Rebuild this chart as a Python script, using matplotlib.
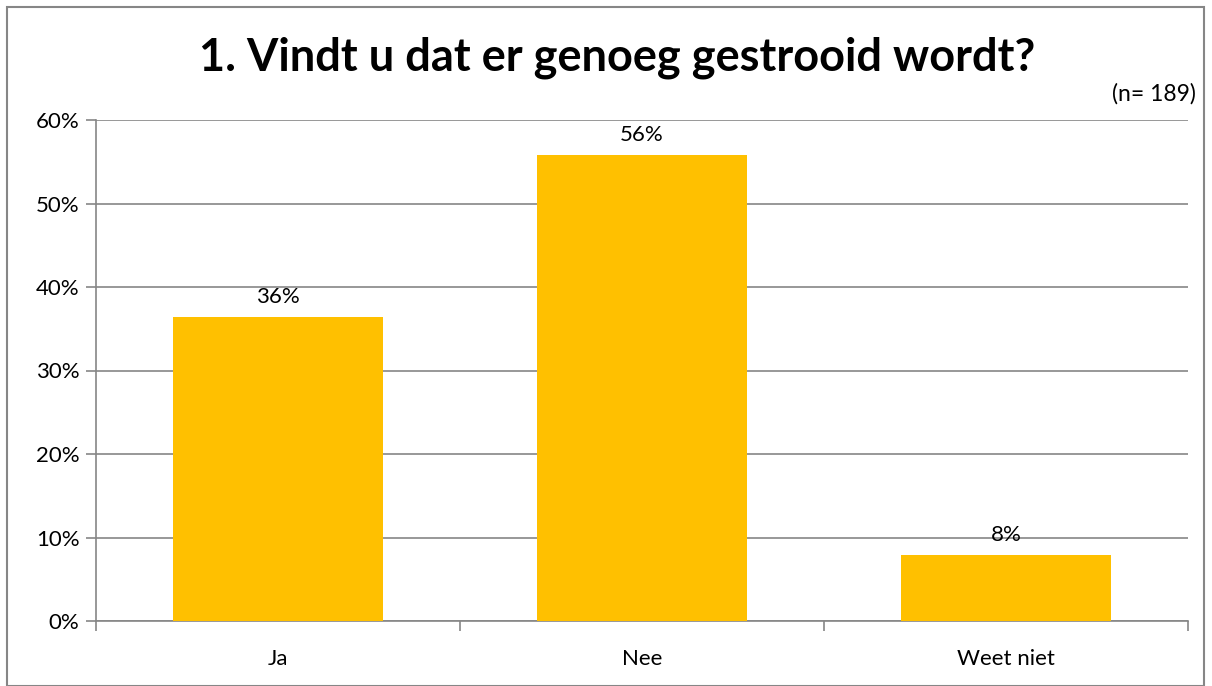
import matplotlib
matplotlib.use('Agg')
from matplotlib import pyplot as plt
from matplotlib.patches import Rectangle
from matplotlib.ticker import FuncFormatter

categories = ['Ja', 'Nee', 'Weet niet']
values = [36.4, 55.8, 7.9]
labels = ['36%', '56%', '8%']

plt.rcParams['font.family'] = ['Lato', 'DejaVu Sans']

fig = plt.figure(figsize=(12.12, 6.86), dpi=100)
ax = fig.add_axes([96 / 1212, 1 - 621 / 686, (1188 - 96) / 1212, (621 - 120) / 686])

grid_c = '#868686'
x = range(len(categories))
ax.bar(x, values, width=0.577, color='#FFC000', zorder=3)
for i, (v, lab) in enumerate(zip(values, labels)):
    ax.text(i, v + 1.2, lab, ha='center', va='bottom', fontsize=16, zorder=4)

ax.set_xlim(-0.5, 2.5)
ax.set_ylim(0, 60)
ax.set_yticks(range(0, 61, 10))
ax.yaxis.set_major_formatter(FuncFormatter(lambda v, p: '%d%%' % v))
ax.set_xticks([0.5 * k - 0.5 for k in (0, 2, 4, 6)])
ax.set_xticklabels([])
ax.set_xticks(list(x), minor=True)
ax.set_xticklabels(categories, minor=True)
ax.tick_params(axis='x', which='minor', length=0, pad=20, labelsize=16)
ax.tick_params(axis='x', which='major', length=7, color=grid_c, width=1.2)
ax.tick_params(axis='y', length=7, color=grid_c, width=1.2, labelsize=16, pad=5)
ax.yaxis.grid(True, color=grid_c, linewidth=1.2, zorder=0)
for s in ['top', 'right']:
    ax.spines[s].set_visible(False)
for s in ['left', 'bottom']:
    ax.spines[s].set_color(grid_c)
    ax.spines[s].set_linewidth(1.2)

fig.text(617 / 1212, 1 - 58 / 686, '1. Vindt u dat er genoeg gestrooid wordt?',
         ha='center', va='center', fontsize=32.5, fontweight='bold')
fig.text(1196 / 1212, 1 - 94 / 686, '(n= 189)', ha='right', va='center', fontsize=16.5)

fig.patches.append(Rectangle((7 / 1212, 0), 1197 / 1212, 1 - 7 / 686,
                             transform=fig.transFigure, fill=False,
                             edgecolor='#868686', linewidth=1.5))

fig.savefig('out.png', dpi=100)
